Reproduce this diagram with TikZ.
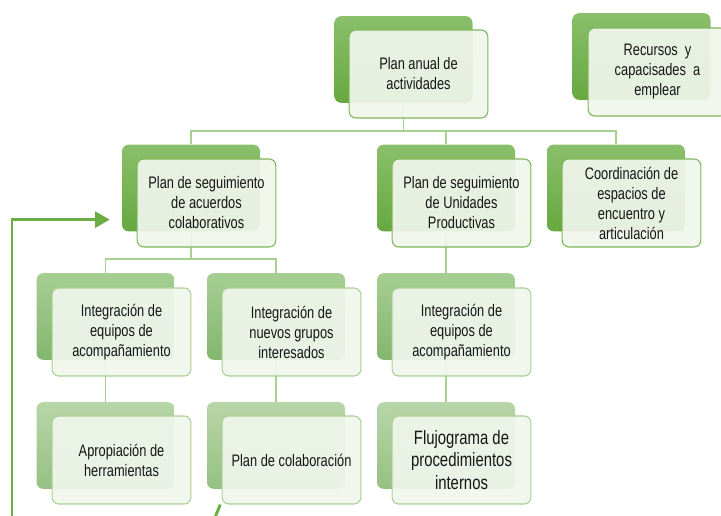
\documentclass[tikz,border=0pt]{standalone}
\usepackage{fontspec}
\setmainfont{Liberation Sans}[FakeStretch=0.77]
\usetikzlibrary{arrows.meta,backgrounds}

\definecolor{verde}{HTML}{6DAE44}
\definecolor{linea}{HTML}{A6D18F}
\definecolor{bordeA}{HTML}{7DB65A}
\definecolor{bordeB}{HTML}{A8D191}
\definecolor{tinta}{HTML}{161616}

\tikzset{
  fondo/.style={rounded corners=5pt,minimum width=103.5pt,minimum height=65pt,inner sep=0pt},
  fondoA/.style={fondo,top color={rgb,255:red,137;green,191;blue,106},bottom color={rgb,255:red,103;green,168;blue,63}},
  fondoB/.style={fondo,top color={rgb,255:red,167;green,206;blue,147},bottom color={rgb,255:red,131;green,182;blue,110}},
  fondoC/.style={fondo,top color={rgb,255:red,184;green,214;blue,168},bottom color={rgb,255:red,150;green,192;blue,131}},
  caja/.style={draw=bordeA,line width=0.8pt,rounded corners=5pt,
    fill={rgb,255:red,241;green,246;blue,237},fill opacity=0.92,text opacity=1,
    minimum width=104pt,minimum height=66pt,inner sep=0pt,align=center,
    text=tinta,font=\fontsize{12.5}{15}\selectfont},
  enlace/.style={draw=linea,line width=0.9pt},
  flecha/.style={draw=verde,line width=2.2pt},
}

\begin{document}
\begin{tikzpicture}[x=0.75pt,y=-0.75pt]
    \useasboundingbox (0,0) rectangle (721,516);
    \clip (0,0) rectangle (721,516);
    % top row
    \node[fondoA] (anb) at (403.5,59.5) {};
    \node[caja] (anf) at (418.5,74) {Plan anual de\\actividades};
    \node[fondoA] (recb) at (641.5,56.5) {};
    \node[caja] (recf) at (657.5,72) {Recursos\ \ y\\capacisades\ \ a\\emplear};
    % second row
    \node[fondoA] (accb) at (191,188) {};
    \node[caja] (accf) at (206.5,203) {Plan de seguimiento\\de acuerdos\\colaborativos};
    \node[fondoA] (unib) at (446,188) {};
    \node[caja] (unif) at (461.5,203) {Plan de seguimiento\\de Unidades\\Productivas};
    \node[fondoA] (coob) at (616,188) {};
    \node[caja] (coof) at (631.5,203) {Coordinación de\\espacios de\\encuentro y\\articulación};
    % third row
    \node[fondoB] (eqb) at (105.5,316.5) {};
    \node[caja,draw=bordeB] (eqf) at (121.5,332) {Integración de\\equipos de\\acompañamiento};
    \node[fondoB] (nueb) at (276,316.5) {};
    \node[caja,draw=bordeB] (nuef) at (291.5,332) {Integración de\\nuevos grupos\\interesados};
    \node[fondoB] (eq2b) at (446,316.5) {};
    \node[caja,draw=bordeB] (eq2f) at (461.5,332) {Integración de\\equipos de\\acompañamiento};
    % fourth row
    \node[fondoC] (apb) at (105.5,445.5) {};
    \node[caja,draw=bordeB] (apf) at (121.5,460) {Apropiación de\\herramientas};
    \node[fondoC] (colb) at (276,445.5) {};
    \node[caja,draw=bordeB] (colf) at (291.5,460) {Plan de colaboración};
    \node[fondoC] (flub) at (446,445.5) {};
    \node[caja,draw=bordeB,font=\fontsize{14.5}{17}\selectfont] (fluf) at (461.5,460) {Flujograma de\\procedimientos\\internos};

    \coordinate (bus1) at (0,131);
    \coordinate (bus2) at (0,259);
    \coordinate (pie) at (12,520);
    \coordinate (corte) at (214,520);
    \begin{pgfonlayer}{background}
      \draw[enlace] (anb) -- (anb |- bus1);
      \draw[enlace] (accb.north) -- (accb.north |- bus1) -| (coob.north);
      \draw[enlace] (unib) -- (unib |- bus1);
      \draw[enlace] (accb) -- (accb |- bus2);
      \draw[enlace] (eqb.north) -- (eqb.north |- bus2) -| (nueb.north);
      \draw[enlace] (unib) -- (eq2b);
      \draw[enlace] (eqb) -- (apb);
      \draw[enlace] (nueb) -- (colb);
      \draw[enlace] (eq2b) -- (flub);
    \end{pgfonlayer}

    % feedback arrow
    \draw[flecha,-{Triangle[length=11pt,width=12pt]}] (pie) |- ([xshift=-9pt,yshift=9pt]accb.south west);
    \draw[flecha] ([xshift=-1pt]colf.south west) -- (corte);
\end{tikzpicture}
\end{document}
